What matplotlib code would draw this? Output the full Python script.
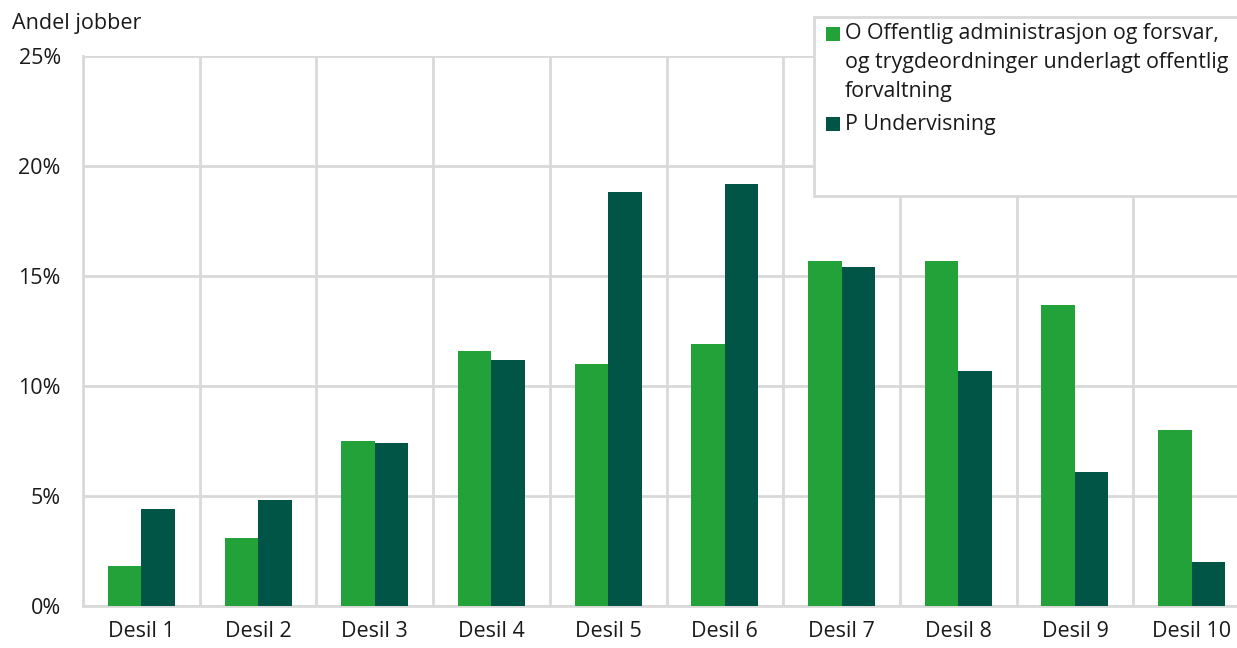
import matplotlib.pyplot as plt
from matplotlib.patches import Rectangle
import numpy as np

plt.rcParams['font.family'] = ['Open Sans', 'DejaVu Sans']

kategorier = ['Desil 1', 'Desil 2', 'Desil 3', 'Desil 4', 'Desil 5',
              'Desil 6', 'Desil 7', 'Desil 8', 'Desil 9', 'Desil 10']
offentlig = [1.8, 3.1, 7.5, 11.6, 11.0, 11.9, 15.7, 15.7, 13.7, 8.0]
undervisning = [4.4, 4.8, 7.4, 11.2, 18.8, 19.2, 15.4, 10.7, 6.1, 2.0]
serie_navn = [['O Offentlig administrasjon og forsvar,',
               'og trygdeordninger underlagt offentlig',
               'forvaltning'],
              ['P Undervisning']]
yticks = [0, 5, 10, 15, 20, 25]

GREEN = '#22A238'
DARK = '#005546'
GRID = '#D9D9D9'
FS = 15.5

W, H = 1237, 648
fig = plt.figure(figsize=(W / 100, H / 100), dpi=100)
# axes run a little past the right edge of the figure
ax = fig.add_axes([83 / W, 1 - 606 / H, (1250 - 83) / W, (606 - 56) / H])

x = np.arange(len(kategorier))
bw = 0.287
ax.bar(x - bw / 2, offentlig, bw, color=GREEN, zorder=3)
ax.bar(x + bw / 2, undervisning, bw, color=DARK, zorder=3)

ax.set_xlim(-0.5, len(kategorier) - 0.5)
ax.set_ylim(0, 25)
ax.set_yticks(yticks)
ax.set_yticklabels([f'{v}%' for v in yticks])
ax.set_xticks(x)
ax.set_xticklabels(kategorier)
ax.set_xticks(np.arange(-0.5, len(kategorier)), minor=True)
ax.grid(True, axis='y', color=GRID, lw=2, zorder=0)
ax.grid(True, axis='x', which='minor', color=GRID, lw=2, zorder=0)
ax.tick_params(axis='both', which='both', length=0, labelsize=FS, colors='#1a1a1a')
ax.tick_params(axis='y', pad=16)
ax.tick_params(axis='x', pad=11)
for side, sp in ax.spines.items():
    sp.set_visible(side in ('left', 'bottom'))
    sp.set_color(GRID)
    sp.set_linewidth(2)

fig.text(12 / W, 1 - 24 / H, 'Andel jobber', fontsize=FS, va='center', ha='left', color='#1a1a1a')

# legend box, one text per line
fig.patches.append(Rectangle((814 / W, 1 - 196 / H), 500 / W, (196 - 17) / H,
                             transform=fig.transFigure, facecolor='white',
                             edgecolor=GRID, lw=2, zorder=5))
for farge, linjer, ysq, ybase in [(GREEN, serie_navn[0], 27, 39), (DARK, serie_navn[1], 117, 130)]:
    fig.patches.append(Rectangle((826 / W, 1 - (ysq + 14) / H), 14 / W, 14 / H,
                                 transform=fig.transFigure, facecolor=farge,
                                 edgecolor='none', zorder=6))
    for i, linje in enumerate(linjer):
        fig.text(845 / W, 1 - (ybase + 29 * i) / H, linje, fontsize=15.4,
                 va='baseline', ha='left', color='#1a1a1a', zorder=7)

fig.savefig('out.png', dpi=100)
